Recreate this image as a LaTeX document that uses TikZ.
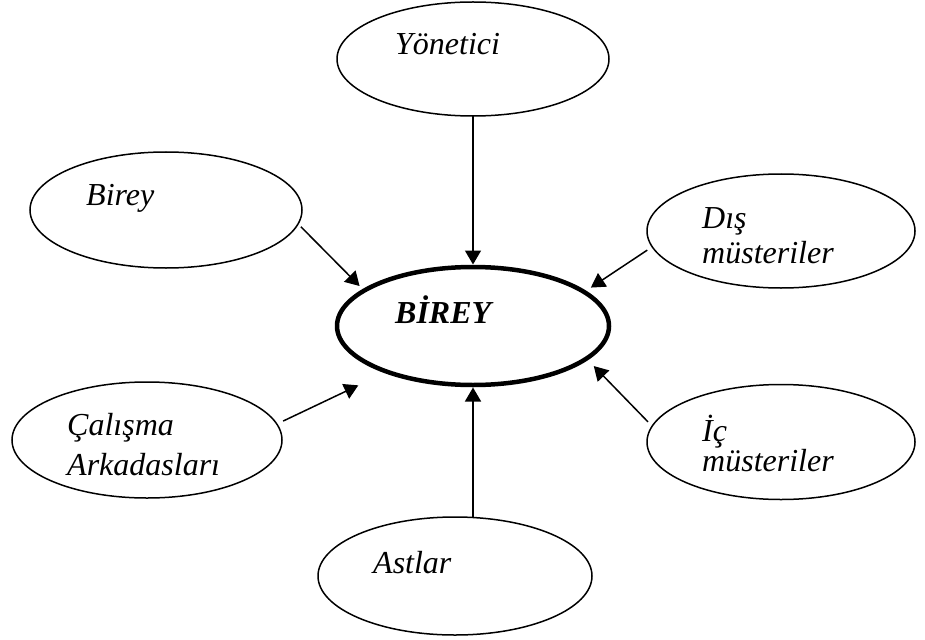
\documentclass[tikz,border=0pt]{standalone}
\usepackage{fontspec}
\setmainfont{Liberation Serif}
\usetikzlibrary{shapes.geometric,arrows.meta}
\begin{document}
\begin{tikzpicture}[x=1pt,y=-1pt,
  oval/.style={ellipse,draw,line width=1.5pt,outer sep=0pt,inner sep=0pt},
  coreoval/.style={oval,line width=4.5pt},
  lbl/.style={anchor=base west,inner sep=0pt,font=\fontsize{32}{36}\selectfont\itshape},
  flow/.style={line width=1.5pt,-{Triangle[length=14pt,width=16pt]}}]
\useasboundingbox (0,0) rectangle (925,639);

% ovals
\node[oval,minimum width=272pt,minimum height=114pt] (yon) at (473,59) {};
\node[oval,minimum width=272pt,minimum height=116pt] (birey) at (166,210) {};
\node[oval,minimum width=268pt,minimum height=114pt] (dis) at (781,231) {};
\node[coreoval,minimum width=272pt,minimum height=118pt] (core) at (473,326) {};
\node[oval,minimum width=270pt,minimum height=116pt] (calisma) at (147,440) {};
\node[oval,minimum width=268pt,minimum height=115pt] (ic) at (781,442) {};
\node[oval,minimum width=274pt,minimum height=118pt] (astlar) at (455,576) {};

% labels
\node[lbl] (t-yon) at (395,55) {Yönetici};
\node[lbl] (t-birey) at (86,205) {Birey};
\node[lbl] (t-dis1) at (702,228) {Dış};
\node[lbl] (t-dis2) at (702,263) {müsteriler};
\node[lbl,font=\fontsize{32}{36}\selectfont\bfseries\itshape] (t-core) at (395,323) {BİREY};
\node[lbl] (t-cal1) at (67,435) {Çalışma};
\node[lbl] (t-cal2) at (67,475) {Arkadasları};
\node[lbl] (t-ic1) at (702,441) {İç};
\node[lbl] (t-ic2) at (702,471) {müsteriler};
\node[lbl] (t-astlar) at (373,573) {Astlar};

% arrows into the centre
\draw[flow,shorten >=2.5pt] (yon.south) -- (core.north);
\draw[flow,shorten >=2.5pt] (astlar.north -| core.south) -- (core.south);
\draw[flow,shorten <=4pt,shorten >=6.5pt] (birey.-6.6) -- (core.162.7);
\draw[flow,shorten <=6pt,shorten >=8pt] (dis.187.5) -- (core.17.5);
\draw[flow,shorten <=7pt,shorten >=31.8pt] (calisma.7.6) -- (core.208);
\draw[flow,shorten <=6pt,shorten >=10.5pt] (ic.173) -- (core.-16.8);
\end{tikzpicture}
\end{document}
